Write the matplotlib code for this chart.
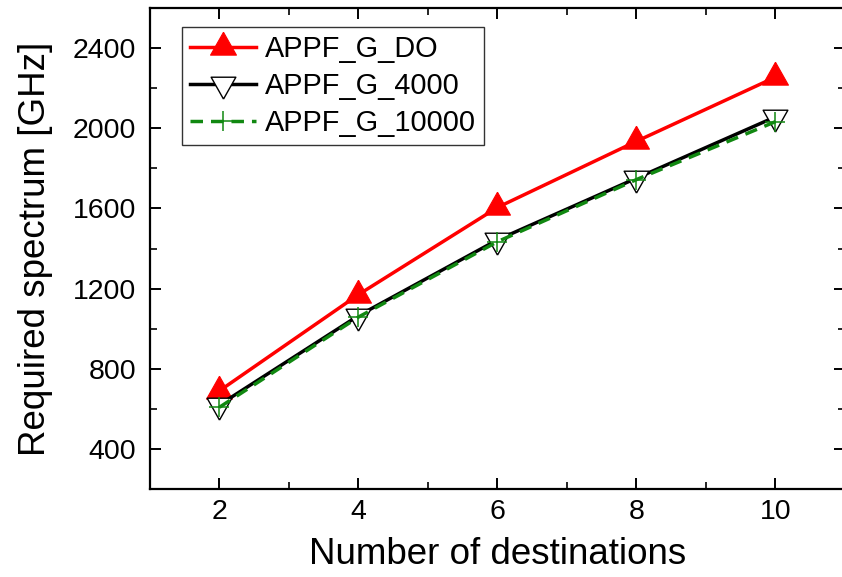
import matplotlib
matplotlib.use("Agg")
import matplotlib.pyplot as plt
from matplotlib.ticker import MultipleLocator

plt.rcParams['font.family'] = ['Liberation Sans', 'DejaVu Sans']

destinations = [2, 4, 6, 8, 10]
appf_g_do = [690, 1170, 1605, 1935, 2255]
appf_g_4000 = [620, 1065, 1443, 1751, 2057]
appf_g_10000 = [608, 1058, 1434, 1744, 2033]

series_labels = ['APPF_G_DO', 'APPF_G_4000', 'APPF_G_10000']

# Triangles centred on their centroid
tri_up = [(0.0, 2.0 / 3.0), (-0.565, -1.0 / 3.0), (0.565, -1.0 / 3.0), (0.0, 2.0 / 3.0)]
tri_down = [(0.0, -2.0 / 3.0), (-0.565, 1.0 / 3.0), (0.565, 1.0 / 3.0), (0.0, -2.0 / 3.0)]

fig = plt.figure(figsize=(8.42, 5.77), dpi=100)
ax = fig.add_axes([0.1781, 0.1525, 0.8254, 0.8336])

ax.plot(destinations, appf_g_do, color='red', lw=2.5, marker=tri_up,
        markersize=22, markerfacecolor='red', markeredgecolor='red',
        markeredgewidth=0.8, label=series_labels[0], zorder=3)
ax.plot(destinations, appf_g_4000, color='black', lw=2.5, marker=tri_down,
        markersize=21, markerfacecolor='white', markeredgecolor='black',
        markeredgewidth=1.0, label=series_labels[1], zorder=4)
ax.plot(destinations, appf_g_10000, color='#118811', lw=2.5,
        linestyle=(0, (3.6, 2.3)), marker='+', markersize=15,
        markeredgecolor='#118811', markeredgewidth=1.1,
        label=series_labels[2], zorder=5)

ax.set_xlim(1, 11)
ax.set_ylim(200, 2600)
ax.xaxis.set_major_locator(MultipleLocator(2))
ax.xaxis.set_minor_locator(MultipleLocator(1))
ax.yaxis.set_major_locator(MultipleLocator(400))
ax.yaxis.set_minor_locator(MultipleLocator(200))

for side in ax.spines.values():
    side.set_linewidth(1.6)

ax.tick_params(which='major', direction='in', length=8, width=1.4,
               top=True, right=True, labelsize=20.5)
ax.tick_params(which='minor', direction='in', length=5, width=1.2,
               top=True, right=True)
ax.tick_params(axis='x', which='major', pad=7)
ax.tick_params(axis='y', which='major', pad=10)

ax.set_xlabel('Number of destinations', fontsize=26.5, labelpad=9)
ax.set_ylabel('Required spectrum [GHz]', fontsize=26.5, labelpad=14)

leg = ax.legend(loc='upper left', bbox_to_anchor=(0.046, 0.961),
                fontsize=20.8, numpoints=1, handlelength=2.3,
                handletextpad=0.3, labelspacing=0.32, borderpad=0.28,
                borderaxespad=0.0, fancybox=False, framealpha=1.0)
leg.get_frame().set_edgecolor('#333333')
leg.get_frame().set_linewidth(1.0)

fig.savefig('out.png', dpi=100)
